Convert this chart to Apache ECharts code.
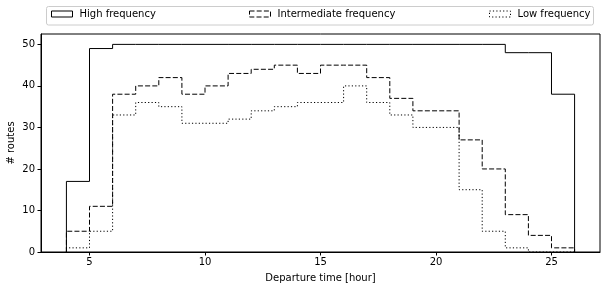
<!DOCTYPE html>
<html>
<head>
<meta charset="utf-8">
<script src="https://cdn.jsdelivr.net/npm/echarts@6/dist/echarts.min.js"></script>
<style>
html,body{margin:0;padding:0;background:#fff;}
#chart{width:606px;height:290px;}
</style>
</head>
<body>
<div id="chart"></div>
<script>
// Bin edges (hours) and counts per bin
const binEdges = [4,5,6,7,8,9,10,11,12,13,14,15,16,17,18,19,20,21,22,23,24,25,26];
const highFreq = [17,49,50,50,50,50,50,50,50,50,50,50,50,50,50,50,50,50,50,48,48,38];
const interFreq = [5,11,38,40,42,38,40,43,44,45,43,45,45,42,37,34,34,27,20,9,4,1];
const lowFreq = [1,5,33,36,35,31,31,32,34,35,36,36,40,36,33,30,30,15,5,1,0,0];
const seriesNames = ['High frequency','Intermediate frequency','Low frequency'];
const xTicks = [5,10,15,20,25];
const yTicks = [0,10,20,30,40,50];

function stepOutline(edges, vals){
  const pts = [[edges[0],0]];
  for(let i=0;i<vals.length;i++){
    pts.push([edges[i],vals[i]]);
    pts.push([edges[i+1],vals[i]]);
  }
  pts.push([edges[edges.length-1],0]);
  return pts;
}

const font = 'DejaVu Sans';
const chart = echarts.init(document.getElementById('chart'), null, {renderer:'canvas'});
const lineTypes = ['solid',[5,2.2],[1.2,2.2]];
const dataSets = [highFreq, interFreq, lowFreq];
const legendLefts = [51, 249, 489];

const option = {
  animation:false,
  backgroundColor:'#fff',
  textStyle:{fontFamily:font},
  grid:{left:41,right:6,top:34,bottom:38,containLabel:false,outerBoundsMode:'none',
    show:true,borderColor:'#000',borderWidth:1,backgroundColor:'transparent'},
  graphic:[{
    type:'rect', shape:{x:46.5,y:6.5,width:547,height:18.5,r:2},
    style:{fill:'rgba(255,255,255,0.8)',stroke:'#cccccc',lineWidth:1}, z:0
  }],
  legend: seriesNames.map((n,i)=>({
    left:legendLefts[i], top:9, padding:0, itemWidth:21, itemHeight:6,
    selectedMode:false,
    textStyle:{fontFamily:font,fontSize:10,color:'#000',padding:[0,0,0,2]},
    data:[{name:n, icon:'rect',
      itemStyle:{color:'rgba(0,0,0,0)',borderColor:'#000',borderWidth:1,borderType:lineTypes[i]}}]
  })),
  xAxis:{
    type:'value', min:2.9, max:27.1,
    name:'Departure time [hour]', nameLocation:'middle', nameGap:21, nameMoveOverlap:false,
    nameTextStyle:{fontFamily:font,fontSize:10,color:'#000'},
    axisLine:{show:true,lineStyle:{color:'#000',width:1}},
    axisTick:{show:true,length:3.5,lineStyle:{color:'#000'},customValues:xTicks},
    axisLabel:{fontFamily:font,fontSize:10,color:'#000',margin:5,customValues:xTicks},
    splitLine:{show:false}
  },
  yAxis:{
    type:'value', min:0, max:52.5,
    name:'# routes', nameLocation:'middle', nameGap:25, nameMoveOverlap:false,
    nameTextStyle:{fontFamily:font,fontSize:10,color:'#000'},
    axisLine:{show:true,lineStyle:{color:'#000',width:1}},
    axisTick:{show:true,length:3.5,lineStyle:{color:'#000'},customValues:yTicks},
    axisLabel:{fontFamily:font,fontSize:10,color:'#000',margin:6,customValues:yTicks},
    splitLine:{show:false}
  },
  series: seriesNames.map((n,i)=>({
    name:n, type:'line', showSymbol:false, symbol:'none',
    data: stepOutline(binEdges, dataSets[i]),
    lineStyle:{color:'#000',width:1,type:lineTypes[i]},
    itemStyle:{color:'#000'},
    clip:false
  }))
};
chart.setOption(option);
</script>
</body>
</html>
